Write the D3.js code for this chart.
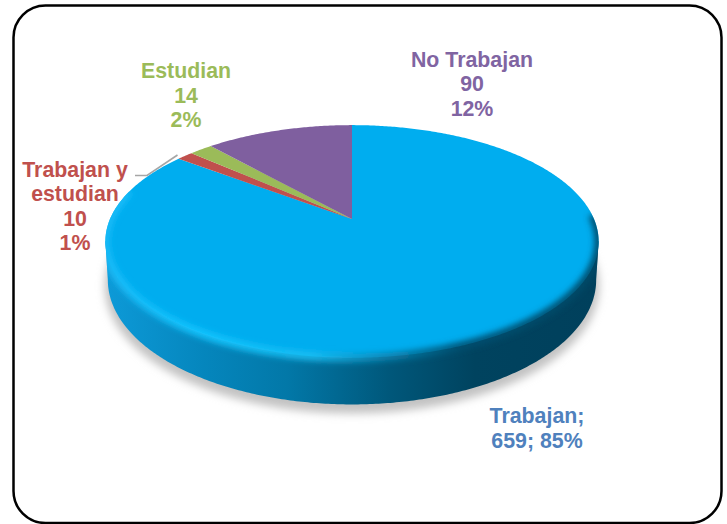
<!DOCTYPE html>
<html>
<head>
<meta charset="utf-8">
<script src="https://cdn.jsdelivr.net/npm/d3@7"></script>
<style>
    html, body { margin: 0; padding: 0; background: #fff; overflow: hidden; }
    text { font-family: "Liberation Sans", Arial, sans-serif; font-weight: bold; font-size: 21.33px; text-anchor: middle; }
</style>
</head>
<body>
<script>
(function() {

    //chart data, clockwise from 12 o'clock
    const categories = ["Trabajan", "Trabajan y estudian", "Estudian", "No Trabajan"];
    const values = [659, 10, 14, 90];
    const percents = ["85%", "1%", "2%", "12%"];
    const sliceColors = ["#00adef", "#c0504d", "#9bbb59", "#7f5f9f"];
    const labelColors = ["#4f81bd", "#c0504d", "#9bbb59", "#8064a2"];

    const width = 727, height = 524;

    //pie frame: apex on screen, perspective foreshortening of the disk
    const cx = 352, cy = 219,
        radiusX = 242, radiusY = 112,
        tilt = -0.193;

    //wall bottom is the same outline, reshaped and lower
    const floorScaleX = 0.99, floorScaleY = 1.07, floorDrop = 38.5;

    //angle is clockwise from north, r = 1 is the rim
    function project(angle, r) {
        let x = Math.sin(angle) * r,
            y = -Math.cos(angle) * r,
            w = 1 + tilt * y;
        return [cx + radiusX * x / w, cy + radiusY * y / w];
    }

    function floorPoint(angle) {
        let p = project(angle, 1),
            rimY = cy + 22.5; //middle of the ellipse
        return [cx + (p[0] - cx) * floorScaleX, rimY + (p[1] - rimY) * floorScaleY + floorDrop];
    }

    function sweep(a0, a1, fn) {
        let n = Math.max(2, Math.ceil(Math.abs(a1 - a0) / 0.01));
        return d3.range(n + 1).map(function (i) {
            return fn(a0 + (a1 - a0) * i / n);
        });
    }

    const rim = function (a) { return project(a, 1); };
    const line = d3.line();
    const rad = Math.PI / 180;

    const svg = d3.select("body").append("svg")
        .attr("width", width)
        .attr("height", height)
        .style("display", "block");

    const defs = svg.append("defs");

    function hGradient(id, stops) {
        let g = defs.append("linearGradient")
            .attr("id", id)
            .attr("gradientUnits", "userSpaceOnUse")
            .attr("x1", 105).attr("x2", 598)
            .attr("y1", 0).attr("y2", 0);
        stops.forEach(function (s) {
            g.append("stop").attr("offset", s[0]).attr("stop-color", s[1]);
        });
    }

    hGradient("wall", [[0, "#0d9ad8"], [0.2, "#0586bd"], [0.37, "#0278a8"], [0.58, "#00577a"], [0.75, "#00435f"], [1, "#00405c"]]);
    hGradient("bevel", [[0, "#1cbcf8"], [0.2, "#12c6ff"], [0.42, "#1cbef2"], [0.56, "#0a86b4"], [0.72, "#004f70"], [1, "#004a68"]]);

    defs.append("filter").attr("id", "blurShadow")
        .attr("x", "-10%").attr("y", "-10%").attr("width", "120%").attr("height", "125%")
        .append("feGaussianBlur").attr("stdDeviation", 4.5);
    defs.append("filter").attr("id", "blurBevel")
        .attr("filterUnits", "userSpaceOnUse")
        .attr("x", 60).attr("y", 100).attr("width", 600).attr("height", 340)
        .append("feGaussianBlur").attr("stdDeviation", 3);

    const wallPoints = [rim(101 * rad)]
        .concat(sweep(101 * rad, 259 * rad, floorPoint))
        .concat([rim(259 * rad)]);

    //clip for the bevel: disk top and wall together
    const hull = defs.append("clipPath").attr("id", "hullClip");
    hull.append("path").attr("d", line(sweep(0, 2 * Math.PI, rim)) + "Z");
    hull.append("path").attr("d", line(wallPoints) + "Z");

    //frame
    svg.append("rect")
        .attr("x", 13.5).attr("y", 5.5)
        .attr("width", 708).attr("height", 517.5)
        .attr("rx", 32).attr("ry", 32)
        .attr("fill", "#fff")
        .attr("stroke", "#000")
        .attr("stroke-width", 2.5);

    //soft shadow under the disk
    svg.append("path")
        .attr("d", line(sweep(0, 2 * Math.PI, floorPoint)) + "Z")
        .attr("transform", "translate(0,6)")
        .attr("fill", "#c2c2c2")
        .attr("stroke", "#c2c2c2")
        .attr("stroke-width", 6)
        .attr("filter", "url(#blurShadow)");

    //side wall
    svg.append("path")
        .attr("d", line(wallPoints) + "Z")
        .attr("fill", "url(#wall)");

    //slices
    const arcs = d3.pie().sort(null)(values);
    svg.selectAll(".slice")
        .data(arcs)
        .enter()
        .append("path")
        .attr("class", "slice")
        .attr("d", function (d) {
            return line([[cx, cy]].concat(sweep(d.startAngle, d.endAngle, rim))) + "Z";
        })
        .attr("fill", function (d, i) { return sliceColors[i]; });

    //rim bevel, only along the front of the disk
    svg.append("g")
        .attr("clip-path", "url(#hullClip)")
        .append("path")
        .attr("d", line(sweep(88 * rad, 285 * rad, rim)))
        .attr("fill", "none")
        .attr("stroke", "url(#bevel)")
        .attr("stroke-width", 8)
        .attr("filter", "url(#blurBevel)");

    //leader line for the small slice
    svg.append("path")
        .attr("d", "M135,175.5H147L177.5,155")
        .attr("fill", "none")
        .attr("stroke", "#a6a6a6")
        .attr("stroke-width", 1.6);

    //labels
    const labelLines = [
        [categories[0] + ";", values[0] + "; " + percents[0]],
        ["Trabajan y", "estudian", values[1], percents[1]],
        [categories[2], values[2], percents[2]],
        [categories[3], values[3], percents[3]]
    ];
    const labelPos = [[537, 423], [75, 176.5], [186, 78], [472, 66.5]];

    svg.selectAll(".label")
        .data(labelLines)
        .enter()
        .append("text")
        .attr("class", "label")
        .attr("fill", function (d, i) { return labelColors[i]; })
        .each(function (d, i) {
            d3.select(this).selectAll("tspan")
                .data(d)
                .enter()
                .append("tspan")
                .attr("x", labelPos[i][0])
                .attr("y", function (t, j) { return labelPos[i][1] + j * 24.5; })
                .text(function (t) { return t; });
        });

})();
</script>
</body>
</html>
